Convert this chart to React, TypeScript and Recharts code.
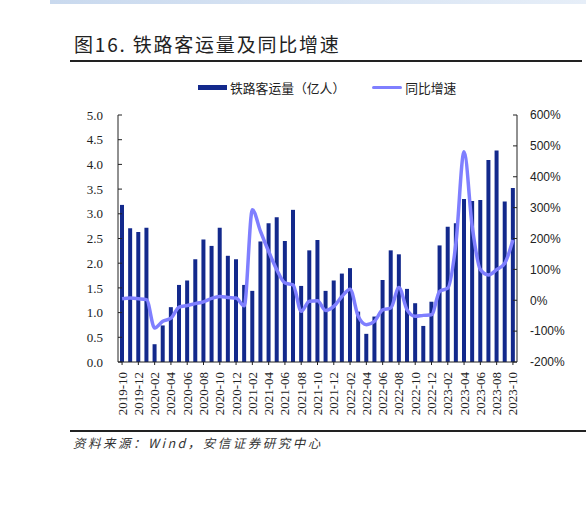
import { ComposedChart, Bar, Line, XAxis, YAxis } from 'recharts';

const months = [
  '2019-10', '2019-11', '2019-12', '2020-01', '2020-02', '2020-03', '2020-04', '2020-05', '2020-06', '2020-07',
  '2020-08', '2020-09', '2020-10', '2020-11', '2020-12', '2021-01', '2021-02', '2021-03', '2021-04', '2021-05',
  '2021-06', '2021-07', '2021-08', '2021-09', '2021-10', '2021-11', '2021-12', '2022-01', '2022-02', '2022-03',
  '2022-04', '2022-05', '2022-06', '2022-07', '2022-08', '2022-09', '2022-10', '2022-11', '2022-12', '2023-01',
  '2023-02', '2023-03', '2023-04', '2023-05', '2023-06', '2023-07', '2023-08', '2023-09', '2023-10',
];

// 铁路客运量（亿人）
const passengers = [
  3.18, 2.71, 2.63, 2.72, 0.36, 0.74, 1.11, 1.56, 1.65, 2.08,
  2.48, 2.35, 2.72, 2.15, 2.08, 1.56, 1.44, 2.44, 2.81, 2.93,
  2.45, 3.08, 1.54, 2.26, 2.47, 1.44, 1.65, 1.79, 1.9, 1.02,
  0.57, 0.92, 1.66, 2.26, 2.18, 1.48, 1.19, 0.73, 1.22, 2.36,
  2.74, 2.81, 3.3, 3.26, 3.28, 4.09, 4.28, 3.25, 3.52,
];

// 同比增速（%）
const yoy = [
  5, 7, 5, 2, -90, -68, -58, -22, -17, -11,
  -5, 6, 12, 9, 7, -18, 293, 223, 158, 99,
  56, 50, -36, -3, -2, -33, -20, 12, 36, -52,
  -79, -68, -31, -25, 41, -31, -52, -49, -47, 29,
  39, 185, 481, 239, 99, 82, 99, 120, 195,
];

const leftTicks = [0, 0.5, 1, 1.5, 2, 2.5, 3, 3.5, 4, 4.5, 5];
const rightTicks = [-200, -100, 0, 100, 200, 300, 400, 500, 600];

const data = months.map((m, i) => ({ month: m, passengers: passengers[i], yoy: yoy[i] }));

const BAR_COLOR = '#13298c';
const LINE_COLOR = '#7f7fff';
const SERIF = '"Liberation Serif", "Noto Sans CJK SC", serif';
const SANS = '"Liberation Sans", "Noto Sans CJK SC", sans-serif';
const CJK = '"Noto Sans CJK SC", sans-serif';

function MonthTick(props: any) {
  const { x, y, payload } = props;
  const ty = y + 5;
  return (
    <text
      x={x}
      y={ty}
      transform={`rotate(-90, ${x}, ${ty})`}
      textAnchor="end"
      dy={4.5}
      fontSize={13}
      fontFamily={SERIF}
      fill="#222"
    >
      {payload.value}
    </text>
  );
}

export default function App() {
  return (
    <div style={{ position: 'absolute', left: 0, top: 0, width: 586, height: 511, background: '#fff', overflow: 'hidden' }}>
      <div style={{ position: 'absolute', left: 50, top: 0, width: 536, height: 4, background: 'linear-gradient(90deg, #c9d9ee, #e6eef8)' }} />
      <div
        style={{
          position: 'absolute', left: 74, top: 30, fontSize: 19, color: '#222',
          fontFamily: CJK, letterSpacing: 1.8, whiteSpace: 'nowrap',
        }}
      >
        图16. 铁路客运量及同比增速
      </div>
      <div style={{ position: 'absolute', left: 70, top: 59.5, width: 512, height: 2, background: '#222' }} />

      <div style={{ position: 'absolute', left: 198, top: 78, display: 'flex', alignItems: 'center', fontSize: 12.8, color: '#222', fontFamily: CJK, whiteSpace: 'nowrap' }}>
        <span style={{ display: 'inline-block', width: 29, height: 5, background: BAR_COLOR, marginRight: 3 }} />
        <span>铁路客运量（亿人）</span>
        <span style={{ display: 'inline-block', width: 30, height: 3, background: LINE_COLOR, marginLeft: 27, marginRight: 3, borderRadius: 2 }} />
        <span>同比增速</span>
      </div>

      <div style={{ position: 'absolute', left: 0, top: 0 }}>
        <ComposedChart width={586} height={420} data={data} margin={{ top: 115, right: 9, left: 68, bottom: 3 }}>
          <XAxis
            dataKey="month"
            interval={1}
            tick={<MonthTick />}
            tickSize={3}
            height={55}
            axisLine={{ stroke: '#222' }}
            tickLine={{ stroke: '#222' }}
          />
          <YAxis
            yAxisId="left"
            domain={[0, 5]}
            ticks={leftTicks}
            tickFormatter={(v: number) => v.toFixed(1)}
            width={50}
            tickSize={-4}
            tickMargin={19}
            axisLine={{ stroke: '#222' }}
            tickLine={{ stroke: '#222' }}
            tick={{ fontSize: 13, fontFamily: SERIF, fill: '#222' }}
          />
          <YAxis
            yAxisId="right"
            orientation="right"
            domain={[-200, 600]}
            ticks={rightTicks}
            tickFormatter={(v: number) => `${v}%`}
            width={60}
            tickSize={-4}
            tickMargin={17}
            axisLine={{ stroke: '#222' }}
            tickLine={{ stroke: '#222' }}
            tick={{ fontSize: 12, fontFamily: SANS, fill: '#222' }}
          />
          <Bar yAxisId="left" dataKey="passengers" fill={BAR_COLOR} barSize={4} isAnimationActive={false} />
          <Line
            yAxisId="right"
            dataKey="yoy"
            type="monotone"
            stroke={LINE_COLOR}
            strokeWidth={3.5}
            dot={false}
            isAnimationActive={false}
          />
        </ComposedChart>
      </div>

      <div style={{ position: 'absolute', left: 70, top: 430, width: 516, height: 2, background: '#222' }} />
      <div
        style={{
          position: 'absolute', left: 73, top: 433, fontSize: 12.5, fontStyle: 'italic', color: '#333',
          fontFamily: CJK, letterSpacing: 2.5, whiteSpace: 'nowrap',
        }}
      >
        资料来源：Wind，安信证券研究中心
      </div>
    </div>
  );
}
